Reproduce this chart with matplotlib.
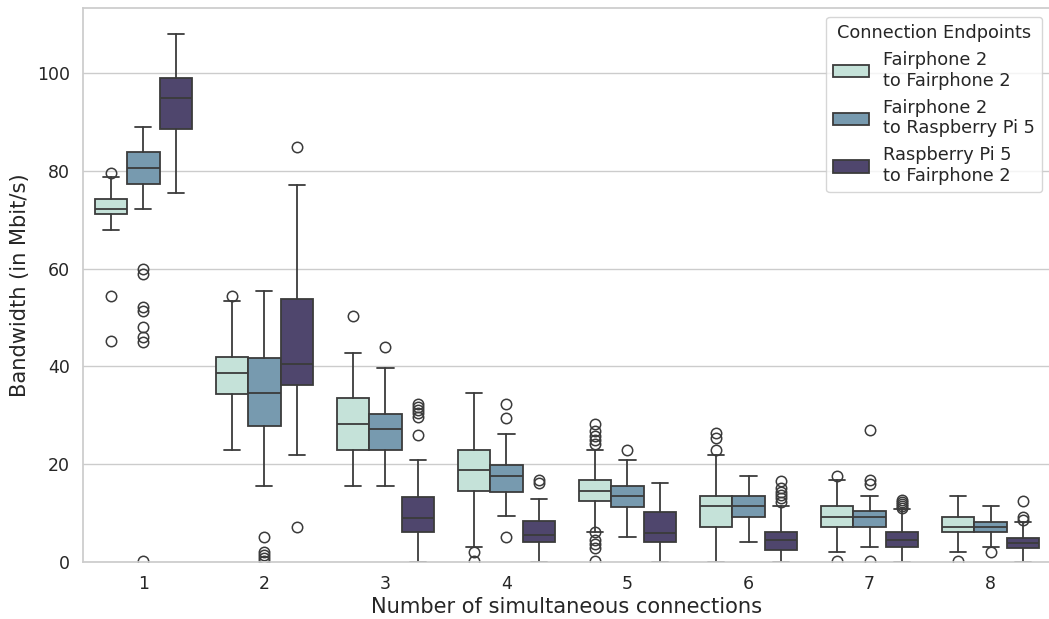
import matplotlib
matplotlib.use("Agg")
import matplotlib.pyplot as plt
import seaborn as sns
from matplotlib.patches import Patch

sns.set_theme(style="whitegrid")

connections = [1, 2, 3, 4, 5, 6, 7, 8]
series_names = ["Fairphone 2\nto Fairphone 2",
                "Fairphone 2\nto Raspberry Pi 5",
                "Raspberry Pi 5\nto Fairphone 2"]
colors = ["#c5e2d9", "#779aaf", "#4f466d"]

# Box statistics (Mbit/s) for each number of connections
# Fairphone 2 -> Fairphone 2
ff_low = [68.0, 23.0, 15.6, 3.1, 6.2, 0.0, 2.0, 2.0]
ff_q1 = [71.1, 34.3, 23.0, 14.6, 12.5, 7.2, 7.2, 6.1]
ff_med = [72.3, 38.7, 28.2, 18.8, 14.6, 11.4, 9.3, 7.2]
ff_q3 = [74.3, 42.0, 33.5, 22.9, 16.7, 13.5, 11.4, 9.3]
ff_high = [78.7, 53.3, 42.8, 34.5, 23.0, 21.9, 16.7, 13.5]
ff_outliers = [[79.5, 54.4, 45.2], [54.5], [50.3], [2.1, 0.2],
               [28.2, 26.7, 25.8, 24.9, 24.1, 6.2, 4.5, 3.6, 2.8, 0.2],
               [26.3, 25.4, 23.0], [17.7, 0.2], [0.2]]

# Fairphone 2 -> Raspberry Pi 5
fr_low = [72.3, 15.6, 15.6, 9.4, 5.2, 4.1, 3.1, 3.1]
fr_q1 = [77.4, 27.9, 23.0, 14.3, 11.3, 9.3, 7.2, 6.1]
fr_med = [80.6, 34.5, 27.2, 17.7, 13.5, 11.4, 9.3, 7.2]
fr_q3 = [83.8, 41.7, 30.3, 19.8, 15.6, 13.5, 10.4, 8.2]
fr_high = [88.9, 55.5, 39.7, 26.1, 20.9, 17.7, 13.5, 11.4]
fr_outliers = [[59.9, 58.9, 52.2, 51.3, 48.1, 46.0, 45.0, 0.2],
               [5.2, 2.1, 1.4, 0.8, 0.2], [43.9], [32.4, 29.4, 5.2],
               [23.0], [], [27.1, 16.8, 15.9, 0.2], [2.0]]

# Raspberry Pi 5 -> Fairphone 2
rf_low = [75.5, 21.8, 0.0, 0.0, 0.0, 0.0, 0.0, 0.0]
rf_q1 = [88.5, 36.3, 6.1, 4.0, 4.0, 2.5, 3.0, 2.9]
rf_med = [95.0, 40.6, 9.1, 5.5, 5.9, 4.6, 4.6, 3.9]
rf_q3 = [98.9, 53.7, 13.4, 8.3, 10.3, 6.1, 6.1, 5.0]
rf_high = [107.9, 77.1, 20.8, 12.9, 16.1, 11.4, 10.9, 8.2]
rf_outliers = [[], [84.9, 7.2], [32.4, 31.8, 31.1, 30.4, 29.7, 26.0],
               [16.8, 16.1], [], [16.6, 15.1, 14.4, 13.7, 13.0, 12.3],
               [12.7, 12.3, 11.9, 11.4, 11.0], [12.5, 9.3, 8.7]]

series = [
    (ff_low, ff_q1, ff_med, ff_q3, ff_high, ff_outliers),
    (fr_low, fr_q1, fr_med, fr_q3, fr_high, fr_outliers),
    (rf_low, rf_q1, rf_med, rf_q3, rf_high, rf_outliers),
]

fig, ax = plt.subplots(figsize=(10.49, 6.19), dpi=100)

line_color = "#3b3b3b"
box_w = 0.8 / 3
offsets = [-box_w, 0.0, box_w]

for s, (low, q1, med, q3, high, outl) in enumerate(series):
    stats = []
    for i in range(len(connections)):
        stats.append({"whislo": low[i], "q1": q1[i], "med": med[i],
                      "q3": q3[i], "whishi": high[i], "fliers": outl[i]})
    positions = [i + offsets[s] for i in range(len(connections))]
    ax.bxp(stats, positions=positions, widths=box_w,
           capwidths=box_w * 0.5, patch_artist=True, manage_ticks=False,
           boxprops=dict(facecolor=colors[s], edgecolor=line_color, linewidth=1.3),
           medianprops=dict(color=line_color, linewidth=1.3),
           whiskerprops=dict(color=line_color, linewidth=1.3),
           capprops=dict(color=line_color, linewidth=1.3),
           flierprops=dict(marker="o", markerfacecolor="none",
                           markeredgecolor=line_color, markersize=7.5,
                           markeredgewidth=1.1))

ax.set_xticks(range(len(connections)))
ax.set_xticklabels([str(c) for c in connections])
ax.set_xlim(-0.5, len(connections) - 0.5)
ax.set_ylim(0, 113.3)
ax.set_yticks([0, 20, 40, 60, 80, 100])
ax.tick_params(labelsize=12.5, colors="#262626")
ax.xaxis.grid(False)

ax.set_xlabel("Number of simultaneous connections", fontsize=15.1, labelpad=3)
ax.set_ylabel("Bandwidth (in Mbit/s)", fontsize=15.1, labelpad=5)

handles = [Patch(facecolor=c, edgecolor=line_color, linewidth=1.3) for c in colors]
ax.legend(handles, series_names, title="Connection Endpoints", loc="upper right",
          fontsize=12.8, title_fontsize=12.8, frameon=True)

fig.subplots_adjust(left=0.079, right=1.002, top=0.987, bottom=0.092)
fig.savefig("out.png", dpi=100)
